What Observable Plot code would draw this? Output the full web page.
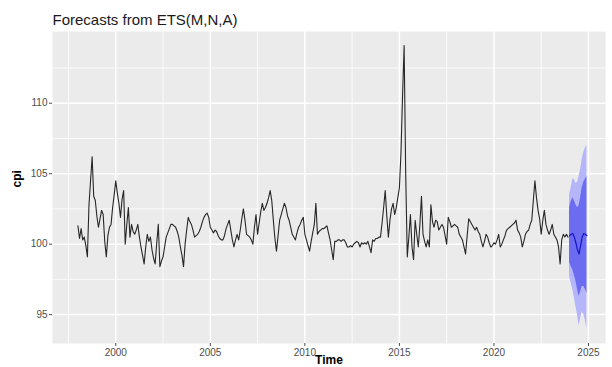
<!DOCTYPE html>
<html>
<head>
<meta charset="utf-8">
<script src="https://cdn.jsdelivr.net/npm/d3@7"></script>
<script src="https://cdn.jsdelivr.net/npm/@observablehq/plot@0.6"></script>
<style>
  html, body { margin: 0; padding: 0; background: #fff; }
  #chart { width: 612px; height: 367px; overflow: hidden; }
</style>
</head>
<body>
<div id="chart"></div>
<script>
// ---- data ----
const titleText = "Forecasts from ETS(M,N,A)";
const xLabel = "Time";
const yLabel = "cpi";
const startYear = 1998;       // monthly series, Jan 1998 .. Dec 2023
const forecastStart = 2024;   // 12-month forecast, Jan .. Dec 2024

const cpi = [
  // 1998
  101.3, 100.4, 101.1, 100.3, 100.5, 99.9, 99.1, 102.8, 104.5, 106.2, 103.4, 103.1,
  // 1999
  102.0, 101.2, 101.8, 102.4, 102.1, 100.2, 99.1, 100.6, 101.2, 101.4, 102.6, 103.5,
  // 2000
  104.5, 103.6, 102.9, 101.9, 103.2, 103.8, 100.0, 101.4, 102.6, 100.5, 101.4, 100.9,
  // 2001
  100.7, 101.0, 101.4, 100.5, 99.8, 99.2, 98.6, 99.8, 100.7, 100.2, 100.5, 99.6,
  // 2002
  99.0, 98.6, 100.1, 101.4, 98.4, 98.8, 99.1, 99.8, 100.5, 100.8, 101.1, 101.4,
  // 2003
  101.4, 101.3, 101.2, 100.9, 100.5, 99.8, 99.2, 98.4, 100.0, 101.0, 101.9, 101.6,
  // 2004
  101.4, 101.0, 100.5, 100.6, 100.7, 100.9, 101.2, 101.6, 101.9, 102.1, 102.2, 101.9,
  // 2005
  101.2, 101.0, 100.8, 101.0, 100.9, 100.6, 100.4, 100.3, 100.3, 100.6, 101.1, 101.4,
  // 2006
  101.7, 101.0, 100.3, 99.8, 100.3, 100.7, 100.3, 101.0, 101.8, 102.5, 101.7, 100.7,
  // 2007
  100.6, 100.5, 100.3, 100.0, 101.2, 102.1, 100.7, 101.5, 102.3, 102.9, 102.4, 102.6,
  // 2008
  102.9, 103.3, 103.8, 103.1, 101.7, 100.4, 99.5, 100.6, 101.7, 102.1, 102.5, 102.9,
  // 2009
  102.6, 102.0, 101.7, 101.2, 100.7, 100.5, 100.3, 100.8, 101.2, 101.4, 101.7, 101.9,
  // 2010
  100.7, 100.3, 99.9, 99.5, 100.2, 100.8, 101.4, 102.9, 100.7, 100.9, 101.0, 101.1,
  // 2011
  101.1, 101.2, 101.3, 100.8, 100.3, 99.6, 98.9, 100.2, 100.2, 100.3, 100.3, 100.2,
  // 2012
  100.3, 100.3, 100.1, 99.8, 99.8, 99.9, 99.8, 100.0, 100.1, 100.2, 100.1, 99.8,
  // 2013
  100.1, 100.0, 100.1, 100.0, 100.2, 99.8, 99.4, 100.3, 100.2, 100.4, 100.4, 100.5,
  // 2014
  100.5, 101.5, 102.6, 103.8, 102.0, 100.5, 101.7, 102.5, 102.9, 102.1, 102.6, 103.3,
  // 2015
  104.0, 106.5, 110.5, 114.1, 105.0, 99.1, 100.5, 102.1, 99.8, 98.9, 101.7, 100.7,
  // 2016
  99.8, 101.4, 103.4, 100.7, 100.2, 99.8, 100.3, 99.8, 102.8, 101.6, 101.2, 101.7,
  // 2017
  101.6, 101.0, 101.2, 101.4, 101.2, 100.6, 100.0, 101.9, 101.6, 101.2, 101.3, 101.4,
  // 2018
  101.3, 101.2, 100.7, 100.5, 100.3, 99.8, 99.3, 100.6, 101.8, 101.6, 101.4, 101.2,
  // 2019
  101.0, 101.2, 100.9, 100.7, 100.2, 99.8, 100.2, 100.7, 100.5, 100.1, 99.8, 99.9,
  // 2020
  100.1, 100.0, 100.3, 100.7, 99.8, 100.0, 100.3, 100.6, 101.0, 101.1, 101.2, 101.3,
  // 2021
  101.4, 101.5, 101.7, 101.0, 100.8, 100.5, 99.8, 100.2, 100.7, 100.9, 101.0, 101.4,
  // 2022
  101.7, 103.1, 104.5, 103.3, 102.4, 101.8, 100.7, 101.7, 102.4, 101.4, 101.0, 100.7,
  // 2023
  101.0, 101.4, 100.7, 100.5, 100.3, 99.8, 98.6, 100.3, 100.7, 100.5, 100.7, 100.5
];

const fcMean = [100.6, 100.7, 100.75, 100.5, 100.1, 99.6, 99.3, 99.9, 100.5, 100.75, 100.7, 100.6];
const fcHi80 = [102.6, 103.0, 103.3, 103.1, 102.8, 102.6, 102.7, 103.3, 104.0, 104.4, 104.6, 104.8];
const fcLo80 = [98.7, 98.4, 98.2, 97.8, 97.4, 96.8, 96.3, 96.6, 97.0, 97.0, 96.8, 96.5];
const fcHi95 = [103.5, 104.0, 104.6, 104.6, 104.3, 104.4, 104.8, 105.3, 106.0, 106.5, 106.8, 107.0];
const fcLo95 = [97.7, 97.2, 96.8, 96.2, 95.6, 95.0, 94.2, 94.7, 95.2, 95.0, 94.6, 94.0];

const xTicks = [2000, 2005, 2010, 2015, 2020, 2025];
const xMinor = [1997.5, 2002.5, 2007.5, 2012.5, 2017.5, 2022.5];
const yTicks = [95, 100, 105, 110];
const yMinor = [97.5, 102.5, 107.5, 112.5];

// ---- tables built from the arrays ----
const history = cpi.map((v, i) => ({t: startYear + i / 12, v}));
const forecast = fcMean.map((v, i) => ({
  t: forecastStart + i / 12,
  mean: v, lo80: fcLo80[i], hi80: fcHi80[i], lo95: fcLo95[i], hi95: fcHi95[i]
}));

const tickColor = "#4D4D4D";

const chart = Plot.plot({
  width: 612,
  height: 367,
  marginLeft: 52,
  marginRight: 7,
  marginTop: 31,
  marginBottom: 24,
  style: {fontFamily: "'Liberation Sans', Arial, sans-serif", background: "#ffffff"},
  x: {domain: [1996.654, 2025.9], label: null},
  y: {domain: [92.95, 115.09], label: null},
  marks: [
    Plot.frame({fill: "#EBEBEB", stroke: "none"}),
    Plot.ruleX(xMinor, {stroke: "#ffffff", strokeWidth: 0.8}),
    Plot.ruleY(yMinor, {stroke: "#ffffff", strokeWidth: 0.8}),
    Plot.ruleX(xTicks, {stroke: "#ffffff", strokeWidth: 1.5}),
    Plot.ruleY(yTicks, {stroke: "#ffffff", strokeWidth: 1.5}),
    Plot.areaY(forecast, {x: "t", y1: "lo95", y2: "hi95", fill: "#B5B5FA", curve: "linear"}),
    Plot.areaY(forecast, {x: "t", y1: "lo80", y2: "hi80", fill: "#6C6CF0", curve: "linear"}),
    Plot.line(history, {x: "t", y: "v", stroke: "#262626", strokeWidth: 1.1}),
    Plot.line(forecast, {x: "t", y: "mean", stroke: "#1515c8", strokeWidth: 1.2}),
    Plot.axisX(xTicks, {tickSize: 3, tickPadding: 2, fontSize: 10, color: tickColor, label: null, tickFormat: d => String(d)}),
    Plot.axisY(yTicks, {tickSize: 3, tickPadding: 2, fontSize: 10, color: tickColor, label: null}),
    Plot.text([xLabel], {frameAnchor: "bottom", dy: 20, fontSize: 12, fontWeight: "bold", fill: "#000000", lineAnchor: "bottom"}),
    Plot.text([yLabel], {frameAnchor: "left", dx: -35, rotate: -90, fontSize: 12, fontWeight: "bold", fill: "#000000"}),
    Plot.text([titleText], {frameAnchor: "top-left", textAnchor: "start", lineAnchor: "bottom", dy: -7, fontSize: 15, fill: "#1a1a1a"})
  ]
});
document.getElementById("chart").appendChild(chart);
</script>
</body>
</html>
